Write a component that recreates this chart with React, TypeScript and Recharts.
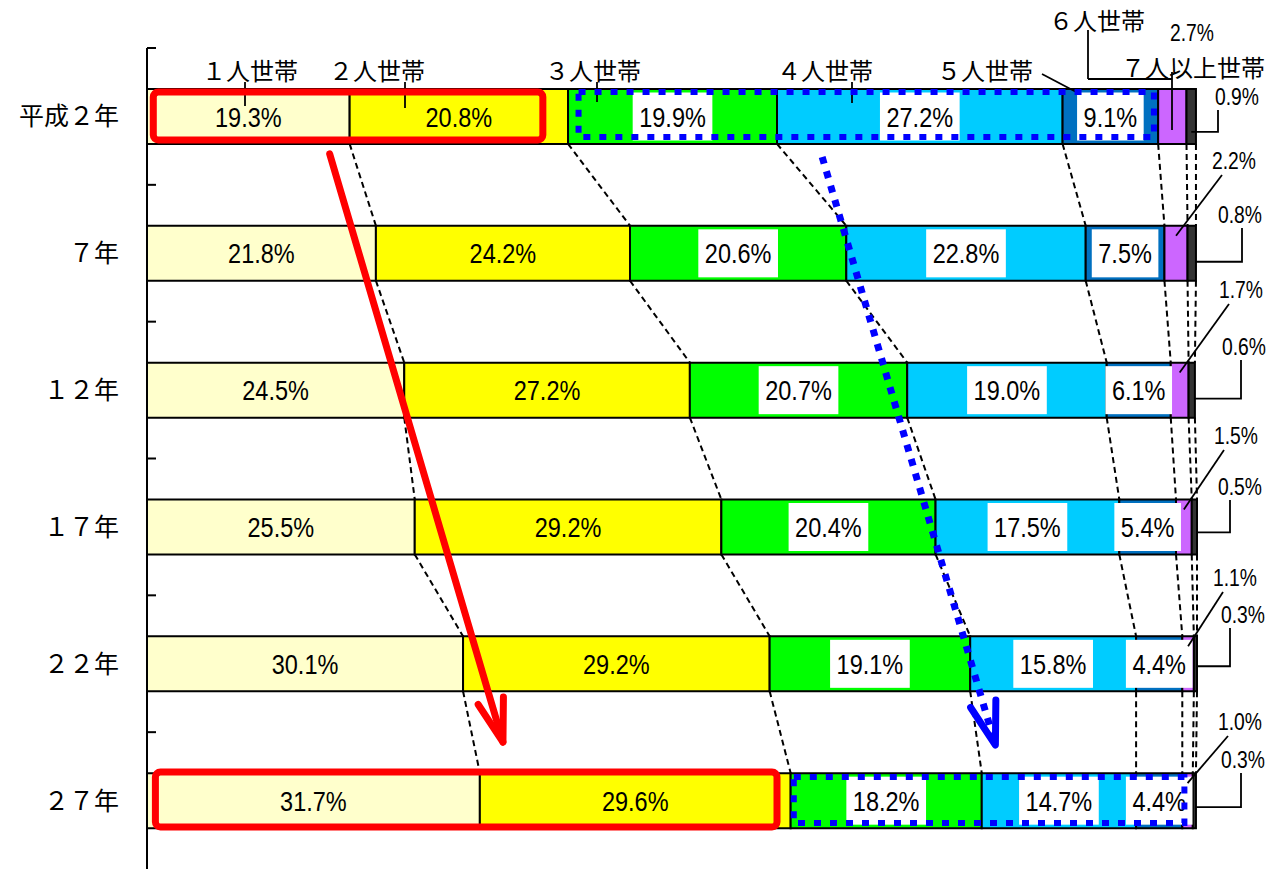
import React from 'react';
import { BarChart, Bar, XAxis, YAxis, LabelList, Customized } from 'recharts';
import * as Recharts from 'recharts';

// ---------- data ----------
const years = ['平成２年', '７年', '１２年', '１７年', '２２年', '２７年'];
const seriesNames = ['１人世帯', '２人世帯', '３人世帯', '４人世帯', '５人世帯', '６人世帯', '７人以上世帯'];
const p1 = [19.3, 21.8, 24.5, 25.5, 30.1, 31.7];
const p2 = [20.8, 24.2, 27.2, 29.2, 29.2, 29.6];
const p3 = [19.9, 20.6, 20.7, 20.4, 19.1, 18.2];
const p4 = [27.2, 22.8, 19.0, 17.5, 15.8, 14.7];
const p5 = [9.1, 7.5, 6.1, 5.4, 4.4, 4.4];
const p6 = [2.7, 2.2, 1.7, 1.5, 1.1, 1.0];
const p7 = [0.9, 0.8, 0.6, 0.5, 0.3, 0.3];

const seriesValues = [p1, p2, p3, p4, p5, p6, p7];
const keys = ['s1', 's2', 's3', 's4', 's5', 's6', 's7'];
const colors = ['#FFFFCC', '#FFFF00', '#00FF00', '#00CCFF', '#0070C0', '#CC66FF', '#333333'];

const data = years.map((year, i) => {
  const row: any = { year };
  keys.forEach((k, j) => (row[k] = seriesValues[j][i]));
  return row;
});

// ---------- layout ----------
const W = 1275;
const H = 869;
const AXIS_W = 147;
const MARGIN = { top: 48, right: 78, bottom: 0, left: 0 };
const BAR = 55;

const SANS = "'Liberation Sans', Arial, sans-serif";
const JP = "'Noto Sans CJK JP', 'Noto Sans CJK SC', sans-serif";
const LABEL_FS = 28;
const OUTER_FS = 23;
const SQUEEZE = 0.84;

const fmt = (v: number) => Number(v).toFixed(1) + '%';
const textW = (s: string, fs: number) => {
  let w = 0;
  for (const c of s) w += c === '.' ? 0.278 : c === '%' ? 0.889 : 0.556;
  return w * fs * SQUEEZE;
};

// narrow text (horizontally condensed sans)
function NText({ x, y, fs, children }: any) {
  return (
    <text transform={`translate(${x},${y + fs * 0.36}) scale(${SQUEEZE},1)`} x={0} y={0} textAnchor="middle"
      fontSize={fs} fontFamily={SANS} fill="#000">
      {children}
    </text>
  );
}

function PlainLabel(props: any) {
  const x = Number(props.x), y = Number(props.y), width = Number(props.width), height = Number(props.height);
  return <NText x={x + width / 2} y={y + height / 2} fs={LABEL_FS}>{fmt(props.value)}</NText>;
}

function BoxLabel(props: any) {
  const x = Number(props.x), y = Number(props.y), width = Number(props.width), height = Number(props.height);
  const s = fmt(props.value);
  const w = textW(s, LABEL_FS) + 13;
  const h = height - 7;
  const cx = x + width / 2;
  const cy = y + height / 2;
  return (
    <g>
      <rect x={cx - w / 2} y={cy - h / 2} width={w} height={h} fill="#FFFFFF" />
      <NText x={cx} y={cy} fs={LABEL_FS}>{s}</NText>
    </g>
  );
}

function YTick(props: any) {
  const { y, payload } = props;
  return (
    <text x={119} y={Number(y) + 25 * 0.36} textAnchor="end" fontSize={25} fontFamily={JP} fill="#000">
      {payload.value}
    </text>
  );
}

// geometry helper (same linear mapping as the chart's number axis)
function geom(area?: any) {
  const L = area && area.width ? area.x : AXIS_W;
  const PW = area && area.width ? area.width : W - AXIS_W - MARGIN.right;
  const T = area && area.height ? area.y : MARGIN.top;
  const PH = area && area.height ? area.height : H - MARGIN.top - MARGIN.bottom;
  const xs = (v: number) => L + (v / 100) * PW;
  const band = PH / years.length;
  const center = (i: number) => T + band * (i + 0.5);
  const top = (i: number) => center(i) - BAR / 2;
  const bot = (i: number) => center(i) + BAR / 2;
  const cum = (i: number, k: number) => {
    let s = 0;
    for (let j = 0; j < k; j++) s += seriesValues[j][i];
    return s;
  };
  return { L, PW, T, PH, xs, band, center, top, bot, cum };
}

// annotation positions (pixels)
const topLabels = [
  { t: seriesNames[0], x: 250, y: 71, lines: [[245, 82, 245, 106]] },
  { t: seriesNames[1], x: 377, y: 71, lines: [[405, 82, 405, 108]] },
  { t: seriesNames[2], x: 593, y: 71, lines: [[597, 82, 597, 102]] },
  { t: seriesNames[3], x: 825, y: 71, lines: [[852, 82, 852, 103]] },
  { t: seriesNames[4], x: 985, y: 71, lines: [[1042, 74, 1080, 94]] },
  { t: seriesNames[5], x: 1097, y: 21, lines: [[1088, 30, 1088, 79], [1088, 79, 1172, 79], [1172, 72, 1172, 130]] },
  { t: seriesNames[6], x: 1193, y: 68, lines: [] as number[][] },
];
const sixPos = [[1192, 33], [1234, 161], [1241, 290], [1236, 436], [1235, 578], [1240, 722]];
const sevenPos = [[1237, 97], [1240, 215], [1244, 347], [1240, 487], [1243, 615], [1243, 760]];
const bracketX = [1218, 1242, 1241, 1230, 1230, 1241];
const bracketDy = [43, 36, 36, 33, 30, 34];

const usePA: any = (Recharts as any).usePlotArea;

// drawn beneath bars: inner ticks + dashed connectors
function Under() {
  const area = usePA ? usePA() : null;
  const g = geom(area);
  const els: any[] = [];
  for (let k = 0; k < years.length; k++) {
    const y = g.T + g.band * k;
    els.push(<line key={'tk' + k} x1={g.L} x2={g.L + 9} y1={y} y2={y} stroke="#000" strokeWidth={2} />);
  }
  for (let i = 0; i < years.length - 1; i++) {
    for (let k = 1; k <= 7; k++) {
      els.push(
        <line key={`c${i}-${k}`} x1={g.xs(g.cum(i, k))} y1={g.bot(i)} x2={g.xs(g.cum(i + 1, k))} y2={g.top(i + 1)}
          stroke="#000" strokeWidth={2} strokeDasharray="6 4" />
      );
    }
  }
  return <g>{els}</g>;
}

// drawn above everything
function Over() {
  const g = geom();
  const { xs, top, bot, cum } = g;
  const els: any[] = [];

  years.forEach((_, i) => {
    const [sx, sy] = sixPos[i];
    const [tx, ty] = sevenPos[i];
    els.push(<NText key={'six' + i} x={sx} y={sy} fs={OUTER_FS}>{fmt(p6[i])}</NText>);
    els.push(<NText key={'sev' + i} x={tx} y={ty} fs={OUTER_FS}>{fmt(p7[i])}</NText>);
    const by = top(i) + bracketDy[i];
    const startX = i === 0 ? xs(cum(i, 6) + p7[i] / 2) : xs(cum(i, 7));
    els.push(
      <polyline key={'br' + i} points={`${startX},${by} ${bracketX[i]},${by} ${bracketX[i]},${ty + 13}`}
        fill="none" stroke="#000" strokeWidth={1.8} />
    );
    if (i > 0) {
      els.push(
        <line key={'ld' + i} x1={xs(cum(i, 5) + p6[i] / 2)} y1={top(i) + 10} x2={sx - 12} y2={sy + 14} stroke="#000" strokeWidth={1.8} />
      );
    }
  });
  topLabels.forEach((t, i) => {
    els.push(<text key={'tl' + i} x={t.x} y={t.y + 24 * 0.36} textAnchor="middle" fontSize={24} fontFamily={JP}>{t.t}</text>);
    t.lines.forEach((l, j) => {
      els.push(<line key={`tll${i}-${j}`} x1={l[0]} y1={l[1]} x2={l[2]} y2={l[3]} stroke="#000" strokeWidth={1.8} />);
    });
  });

  const redRect = (key: string, i: number, a: number, b: number, dt: number, db: number) => (
    <rect key={key} x={xs(a)} y={top(i) + dt} width={xs(b) - xs(a)} height={bot(i) + db - (top(i) + dt)}
      fill="none" stroke="#FF0000" strokeWidth={7} rx={5} />
  );
  const blueRect = (key: string, i: number, a: number, b: number, dt: number, db: number) => (
    <rect key={key} x={xs(a)} y={top(i) + dt} width={xs(b) - xs(a)} height={bot(i) + db - (top(i) + dt)}
      fill="none" stroke="#0000FF" strokeWidth={6} strokeDasharray="7 9" />
  );
  els.push(blueRect('b0', 0, 41.1, 95.9, 3, -7));
  els.push(blueRect('b5', 5, 61.6, 98.8, 4, -5));
  els.push(redRect('r0', 0, 0.6, 37.7, 3, -4));
  els.push(redRect('r5', 5, 0.8, 60.0, -1, -1));

  const arrow = (key: string, x0: number, y0: number, x1: number, y1: number, color: string, dotted: boolean) => {
    const ang = Math.atan2(y0 - y1, x0 - x1);
    const len = 45;
    const d = (17 * Math.PI) / 180;
    const a1 = [x1 + len * Math.cos(ang - d), y1 + len * Math.sin(ang - d)];
    const a2 = [x1 + len * Math.cos(ang + d), y1 + len * Math.sin(ang + d)];
    return (
      <g key={key}>
        <line x1={x0} y1={y0} x2={x1} y2={y1} stroke={color} strokeWidth={7}
          strokeDasharray={dotted ? '7 8' : undefined} strokeLinecap={dotted ? 'butt' : 'round'} />
        <polyline points={`${a1[0]},${a1[1]} ${x1},${y1} ${a2[0]},${a2[1]}`} fill="none" stroke={color}
          strokeWidth={7} strokeLinecap="round" strokeLinejoin="round" />
      </g>
    );
  };
  els.push(arrow('ar', xs(17.4), bot(0) + 10, xs(33.9), top(5) - 31, '#FF0000', false));
  els.push(arrow('ab', xs(64.3), bot(0) + 13, xs(80.8), top(5) - 28, '#0000FF', true));

  return (
    <svg width={W} height={H} style={{ position: 'absolute', left: 0, top: 0, pointerEvents: 'none' }}>
      {els}
    </svg>
  );
}

export default function App() {
  return (
    <div style={{ position: 'absolute', left: 0, top: 0, width: W, height: H, background: '#fff' }}>
      <BarChart width={W} height={H} data={data} layout="vertical" margin={MARGIN} barSize={BAR}>
        <XAxis type="number" domain={[0, 100]} hide />
        <YAxis type="category" dataKey="year" width={AXIS_W} axisLine={{ stroke: '#000', strokeWidth: 2 }}
          tickLine={false} tick={<YTick />} interval={0} />
        <Customized component={<Under />} />
        {keys.map((k, j) => (
          <Bar key={k} dataKey={k} stackId="a" fill={colors[j]} stroke="#000" strokeWidth={2} isAnimationActive={false}>
            {j < 2 && <LabelList dataKey={k} content={<PlainLabel />} />}
            {j >= 2 && j < 5 && <LabelList dataKey={k} content={<BoxLabel />} />}
          </Bar>
        ))}
      </BarChart>
      <Over />
    </div>
  );
}
